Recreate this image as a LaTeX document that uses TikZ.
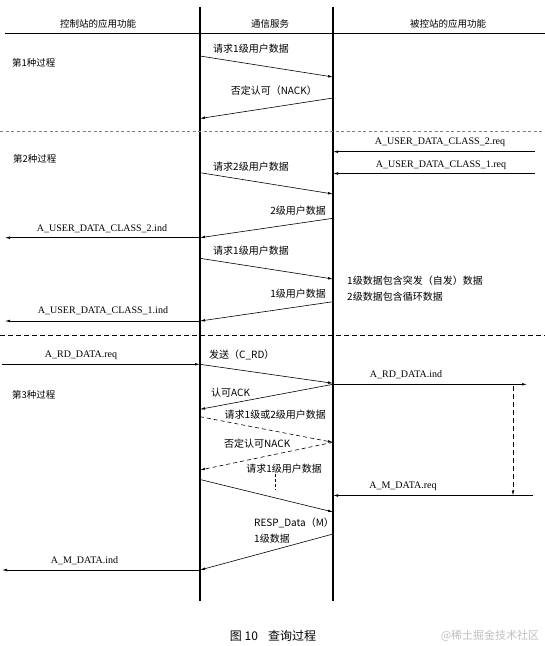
\documentclass[tikz,border=0pt]{standalone}
\usepackage{fontspec}
\setmainfont{Noto Sans CJK SC}
\newfontfamily\lat{Liberation Serif}
\usetikzlibrary{arrows.meta}

\begin{document}
\begin{tikzpicture}[x=1pt, y=-1pt, font=\fontsize{10}{12}\selectfont,
  every node/.style={inner sep=0pt},
  life/.style={line width=1.1pt},
  msg/.style={line width=0.6pt, -{Latex[length=5pt,width=2.6pt]}},
  dmsg/.style={msg, dash pattern=on 4pt off 3pt},
  sep/.style={line width=0.6pt, dash pattern=on 3pt off 2.5pt},
  hdr/.style={font=\fontsize{9.5}{11}\selectfont},
  latlbl/.style={font=\fontsize{10}{12}\lat}]
  \useasboundingbox (0,0) rectangle (545,646);

  \coordinate (ctop) at (200,7);
  \coordinate (cbot) at (200,601);
  \coordinate (stop) at (333,7);
  \coordinate (sbot) at (333,601);
  \coordinate (hl) at (5,33.5);
  \coordinate (hr) at (545,33.5);
  \draw[life] (ctop) -- (cbot);
  \draw[life] (stop) -- (sbot);
  \draw[line width=0.9pt] (hl) -- (hr);
  \node[hdr] (hctl) at (98,24) {控制站的应用功能};
  \node[hdr] (hcom) at (270,24) {通信服务};
  \node[hdr] (hsta) at (448,24) {被控站的应用功能};

  \node[hdr, anchor=west] (p1) at (12,63) {第1种过程};
  \coordinate (m1a) at (200,56);
  \coordinate (m1b) at (333,77);
  \draw[msg] (m1a) -- (m1b);
  \node[anchor=west] (l1) at (213,49) {请求1级用户数据};
  \coordinate (m2a) at (333,98);
  \coordinate (m2b) at (200,118.5);
  \draw[msg] (m2a) -- (m2b);
  \node[anchor=east] (l2) at (317,91) {否定认可（NACK）};

  \coordinate (s1a) at (0,131);
  \coordinate (s1b) at (545,131);
  \draw[sep, gray] (s1a) -- (s1b);

  \node[hdr, anchor=west] (p2) at (13,159) {第2种过程};
  \coordinate (r2a) at (535,151.7);
  \coordinate (r2b) at (333,151.7);
  \draw[msg] (r2a) -- (r2b);
  \node[latlbl] (lr2) at (440,142.5) {A\_USER\_DATA\_CLASS\_2.req};
  \coordinate (r1a) at (535,173.5);
  \coordinate (r1b) at (333,173.5);
  \draw[msg] (r1a) -- (r1b);
  \node[latlbl] (lr1) at (441,165) {A\_USER\_DATA\_CLASS\_1.req};
  \coordinate (m3a) at (200,172.7);
  \coordinate (m3b) at (333,194);
  \draw[msg] (m3a) -- (m3b);
  \node[anchor=west] (l3) at (213,166.7) {请求2级用户数据};
  \coordinate (m4a) at (333,218.3);
  \coordinate (m4b) at (200,237.7);
  \draw[msg] (m4a) -- (m4b);
  \node[anchor=east] (l4) at (326,210.7) {2级用户数据};
  \coordinate (i2b) at (5,237.7);
  \draw[msg] (m4b) -- (i2b);
  \node[latlbl] (li2) at (102,228.5) {A\_USER\_DATA\_CLASS\_2.ind};
  \coordinate (m5a) at (200,258.3);
  \coordinate (m5b) at (333,279);
  \draw[msg] (m5a) -- (m5b);
  \node[anchor=west] (l5) at (213,251) {请求1级用户数据};
  \node[anchor=west] (n1) at (347,280.5) {1级数据包含突发（自发）数据};
  \node[anchor=west] (n2) at (347,296.5) {2级数据包含循环数据};
  \coordinate (m6a) at (333,301.7);
  \coordinate (m6b) at (200,321);
  \draw[msg] (m6a) -- (m6b);
  \node[anchor=east] (l6) at (326,293.3) {1级用户数据};
  \coordinate (i1b) at (5,321);
  \draw[msg] (m6b) -- (i1b);
  \node[latlbl] (li1) at (103,311) {A\_USER\_DATA\_CLASS\_1.ind};

  \coordinate (s2a) at (0,335);
  \coordinate (s2b) at (545,335);
  \draw[sep, dash pattern=on 5pt off 3pt] (s2a) -- (s2b);

  \node[hdr, anchor=west] (p3) at (12,395) {第3种过程};
  \coordinate (rqa) at (2,364.3);
  \coordinate (rqb) at (200,364.3);
  \draw[msg] (rqa) -- (rqb);
  \node[latlbl] (lrq) at (81,355) {A\_RD\_DATA.req};
  \coordinate (m7b) at (333,383.3);
  \draw[msg] (rqb) -- (m7b);
  \node[anchor=west] (l7) at (209,355) {发送（C\_RD）};
  \coordinate (rda) at (333,384.3);
  \coordinate (rdb) at (527,384.3);
  \draw[msg] (rda) -- (rdb);
  \node[latlbl] (lrd) at (406,375) {A\_RD\_DATA.ind};
  \coordinate (wa) at (513,386);
  \coordinate (wb) at (513,495.5);
  \draw[msg, dash pattern=on 5pt off 3pt] (wa) -- (wb);
  \coordinate (m8b) at (200,409.3);
  \draw[msg] (rda) -- (m8b);
  \node[anchor=west] (l8) at (211,392.7) {认可ACK};
  \coordinate (m9a) at (200,416.7);
  \coordinate (m9b) at (333,442.3);
  \draw[dmsg] (m9a) -- (m9b);
  \node[anchor=east] (l9) at (326,414.3) {请求1级或2级用户数据};
  \coordinate (m10b) at (200,470);
  \draw[dmsg] (m9b) -- (m10b);
  \node[anchor=west] (l10) at (224,443.3) {否定认可NACK};
  \node[anchor=east] (l11) at (322,468.3) {请求1级用户数据};
  \coordinate (ta) at (275,474);
  \coordinate (tb) at (275,489.5);
  \draw[line width=0.6pt, dash pattern=on 3pt off 2pt] (ta) -- (tb);
  \coordinate (m11a) at (200,479.5);
  \coordinate (m11b) at (333,512);
  \draw[msg] (m11a) -- (m11b);
  \coordinate (mqa) at (533,495.5);
  \coordinate (mqb) at (333,495.5);
  \draw[msg] (mqa) -- (mqb);
  \node[latlbl] (lmq) at (403,486.7) {A\_M\_DATA.req};
  \coordinate (m12a) at (333,534);
  \coordinate (m12b) at (200,570);
  \draw[msg] (m12a) -- (m12b);
  \node[anchor=west] (l12) at (254,523.3) {RESP\_Data（M）};
  \node[anchor=west] (l12b) at (254,538.3) {1级数据};
  \coordinate (mib) at (2,570);
  \draw[msg] (m12b) -- (mib);
  \node[latlbl] (lmi) at (84.5,560.7) {A\_M\_DATA.ind};

  \node[font=\fontsize{12}{14}\selectfont] (cap) at (273,636) {图 10\hspace{10pt}查询过程};
  \node[font=\fontsize{11}{13}\selectfont, text=gray!50] (wm) at (490,636) {@稀土掘金技术社区};
\end{tikzpicture}
\end{document}
